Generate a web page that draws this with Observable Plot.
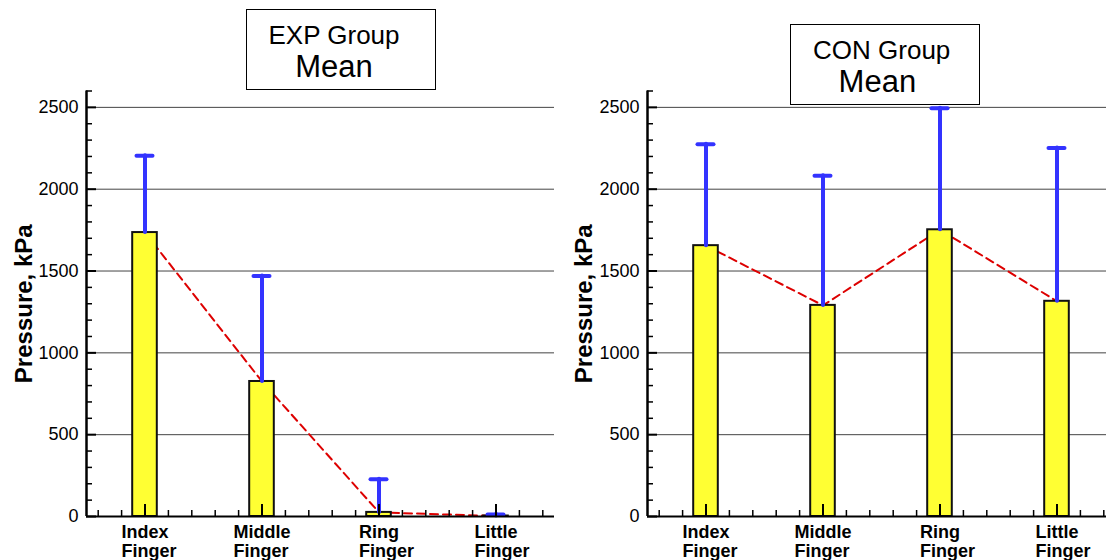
<!DOCTYPE html>
<html><head><meta charset="utf-8">
<script src="https://cdn.jsdelivr.net/npm/d3@7"></script>
<script src="https://cdn.jsdelivr.net/npm/@observablehq/plot@0.6"></script>
<style>
html,body{margin:0;padding:0;background:#fff;overflow:hidden;}
#page{position:relative;width:1106px;height:560px;overflow:hidden;font-family:"Liberation Sans",Arial,sans-serif;background:#fff;}
.panel{position:absolute;top:0;width:560px;height:560px;}
.box{position:absolute;border:1.5px solid #000;background:#fff;box-sizing:border-box;}
.ttl{position:absolute;width:300px;text-align:center;white-space:nowrap;line-height:1;color:#000;font-family:"Liberation Sans",Arial,sans-serif;}
</style></head><body>
<div id="page">
  <div class="panel" id="left" style="left:0"></div>
  <div class="panel" id="right" style="left:560px"></div>
</div>
<script>
// ---- data ----
const categories = ["Index\nFinger", "Middle\nFinger", "Ring\nFinger", "Little\nFinger"];
const expMean  = [1735, 825, 25, 3];
const expUpper = [2205, 1470, 228, 12];
const conMean  = [1655, 1290, 1752, 1315];
const conUpper = [2275, 2082, 2495, 2252];
const yMajorTicks = [0, 500, 1000, 1500, 2000, 2500];
const yMax = 2600;
const yLabel = "Pressure, kPa";
const groupTitles = ["EXP Group", "CON Group"];
const statTitle = "Mean";

// ---- drawing ----
const FONT = "Liberation Sans, Arial, sans-serif";
const yMinor = d3.range(1, 27).map(k => k * 100).filter(v => v % 500 !== 0);
const xMinor = d3.range(3, 23).filter(k => k % 5 !== 0).map(k => k / 5);
const ctx = document.createElement("canvas").getContext("2d");
ctx.font = "bold 18px 'Liberation Sans'";

function makePanel(means, uppers, ml, labelDx) {
  const W = 560, H = 560, mt = 90.5, mb = 44;
  const innerW = 468;
  const mr = W - ml - innerW;
  const innerH = H - mt - mb;
  const pxPerUnit = innerW / 4;
  const BAR = 12.3 / pxPerUnit;
  const CAP = 8 / pxPerUnit;
  const rows = categories.map((c, i) => ({x: i + 1, label: c, mean: means[i], upper: uppers[i]}));
  const labelMarks = rows.map(r => {
    const first = r.label.split("\n")[0];
    const w = ctx.measureText(first).width;
    return Plot.text([r], {x: "x", y: 0, text: "label", textAnchor: "start", lineAnchor: "top",
      lineHeight: 19 / 18, dy: 8, dx: -w / 2, fontSize: 18, fontWeight: "bold", fontFamily: FONT, fill: "#000"});
  });
  return Plot.plot({
    width: W, height: H,
    marginLeft: ml, marginRight: mr, marginTop: mt, marginBottom: mb,
    style: {fontFamily: FONT, background: "transparent", overflow: "visible"},
    x: {domain: [0.5, 4.5], axis: null},
    y: {domain: [0, yMax]},
    marks: [
      Plot.ruleY(yMajorTicks.filter(v => v > 0), {stroke: "#444", strokeWidth: 1}),
      Plot.line(rows, {x: "x", y: "mean", stroke: "#dd0000", strokeWidth: 2, strokeDasharray: "8,5"}),
      Plot.rect(rows, {x1: d => d.x - BAR, x2: d => d.x + BAR, y1: 0, y2: "mean",
        fill: "#ffff33", stroke: "#111", strokeWidth: 2}),
      Plot.ruleX(rows, {x: "x", y1: "mean", y2: "upper", stroke: "#3333ff", strokeWidth: 4, strokeLinecap: "round"}),
      Plot.ruleY(rows, {y: "upper", x1: d => d.x - CAP, x2: d => d.x + CAP, stroke: "#3333ff", strokeWidth: 4, strokeLinecap: "round"}),
      Plot.ruleX([0.5], {y1: 0, y2: yMax, stroke: "#000", strokeWidth: 2.5}),
      Plot.ruleY([0], {stroke: "#000", strokeWidth: 2}),
      Plot.tickY(yMajorTicks, {y: d => d, insetRight: innerW - 10, stroke: "#000", strokeWidth: 2}),
      Plot.tickY(yMinor, {y: d => d, insetRight: innerW - 6, stroke: "#000", strokeWidth: 1.5}),
      Plot.tickX(xMinor, {x: d => d, insetTop: innerH - 6, stroke: "#000", strokeWidth: 1.5}),
      Plot.tickX(rows, {x: "x", insetTop: innerH - 12, stroke: "#000", strokeWidth: 2}),
      Plot.axisY({ticks: yMajorTicks, tickSize: 0, tickPadding: 8, fontSize: 18, fill: "#000",
        fontFamily: FONT, tickFormat: d => String(d), label: null}),
      Plot.text([yLabel], {frameAnchor: "left", text: d => d, rotate: -90, dx: labelDx,
        textAnchor: "middle", lineAnchor: "middle", fontSize: 24, fontWeight: "bold", fontFamily: FONT, fill: "#000"}),
      ...labelMarks
    ]
  });
}

document.getElementById("left").appendChild(makePanel(expMean, expUpper, 86, -62.5));
document.getElementById("right").appendChild(makePanel(conMean, conUpper, 87, -63.5));

// ---- title boxes ----
const page = document.getElementById("page");
function addBox(left, top, w, h) {
  const b = document.createElement("div");
  b.className = "box";
  Object.assign(b.style, {left: left + "px", top: top + "px", width: w + "px", height: h + "px"});
  page.appendChild(b);
}
function addText(txt, cx, baseline, size) {
  const t = document.createElement("div");
  t.className = "ttl";
  t.textContent = txt;
  Object.assign(t.style, {left: (cx - 150) + "px", top: (baseline - 0.8465 * size) + "px", fontSize: size + "px"});
  page.appendChild(t);
}
addBox(246, 9, 190, 81);
addText(groupTitles[0], 334, 44.3, 26);
addText(statTitle, 334, 77.3, 31);
addBox(790, 24, 190, 81);
addText(groupTitles[1], 881.7, 59.3, 26);
addText(statTitle, 877.4, 92.3, 31);
</script>
</body></html>
